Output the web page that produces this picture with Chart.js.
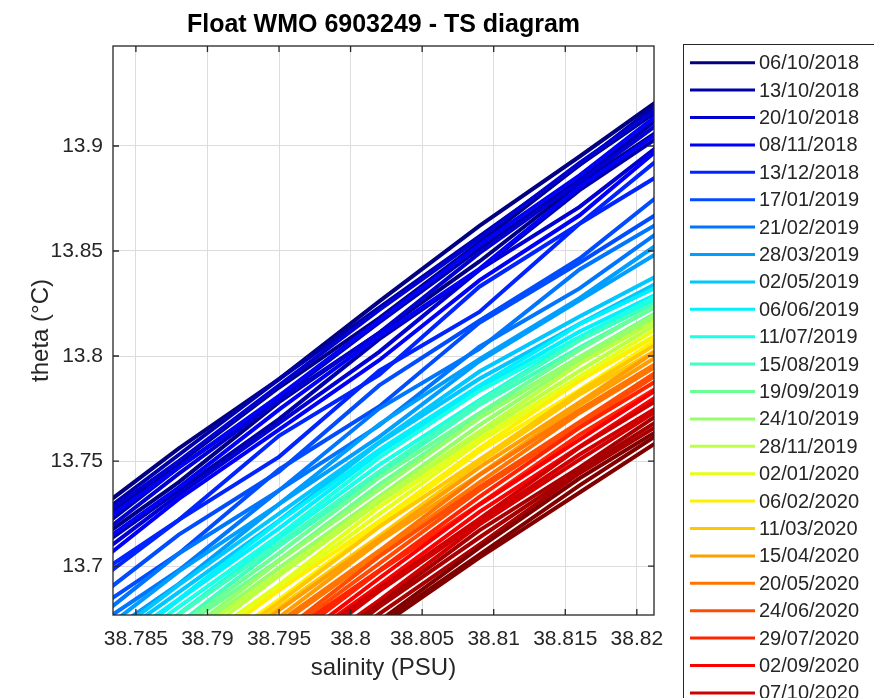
<!DOCTYPE html>
<html>
<head>
<meta charset="utf-8">
<script src="https://cdn.jsdelivr.net/npm/chart.js@4.4.0/dist/chart.umd.min.js"></script>
<style>
  html, body { margin: 0; padding: 0; background: #fff; }
  #wrap { width: 874px; height: 698px; }
</style>
</head>
<body>
<div id="wrap"><canvas id="tsChart" width="874" height="698"></canvas></div>
<script>
// axes
const xTicks = [38.785, 38.79, 38.795, 38.8, 38.805, 38.81, 38.815, 38.82];
const yTicks = [13.7, 13.75, 13.8, 13.85, 13.9];
const xRange = [38.7834, 38.8212];
const yRange = [13.6767, 13.9476];

const salinity = [38.781, 38.788, 38.795, 38.802, 38.809, 38.816, 38.823];

const dates = ['06/10/2018', '13/10/2018', '20/10/2018', '08/11/2018', '13/12/2018',
  '17/01/2019', '21/02/2019', '28/03/2019', '02/05/2019', '06/06/2019', '11/07/2019',
  '15/08/2019', '19/09/2019', '24/10/2019', '28/11/2019', '02/01/2020', '06/02/2020',
  '11/03/2020', '15/04/2020', '20/05/2020', '24/06/2020', '29/07/2020', '02/09/2020',
  '07/10/2020', '11/11/2020', '16/12/2020'];

// theta (one row per strand of the profile)
const p20181006 = [
  [13.7200, 13.7560, 13.7890, 13.8260, 13.8620, 13.8950, 13.9290],
  [13.7150, 13.7490, 13.7850, 13.8180, 13.8540, 13.8910, 13.9240],
  [13.7060, 13.7400, 13.7780, 13.8110, 13.8450, 13.8820, 13.9140]];
const p20181013 = [
  [13.7170, 13.7530, 13.7890, 13.8230, 13.8570, 13.8910, 13.9280],
  [13.7100, 13.7470, 13.7800, 13.8160, 13.8510, 13.8840, 13.9210],
  [13.7020, 13.7360, 13.7700, 13.8080, 13.8410, 13.8790, 13.9110]];
const p20181020 = [
  [13.7160, 13.7500, 13.7860, 13.8220, 13.8560, 13.8920, 13.9250],
  [13.7070, 13.7440, 13.7790, 13.8110, 13.8490, 13.8830, 13.9180],
  [13.6980, 13.7340, 13.7680, 13.8020, 13.8410, 13.8710, 13.9080]];
const p20181108 = [
  [13.7130, 13.7470, 13.7810, 13.8170, 13.8530, 13.8860, 13.9230],
  [13.7035, 13.7375, 13.7745, 13.8095, 13.8415, 13.8805, 13.9135],
  [13.6940, 13.7320, 13.7650, 13.7980, 13.8360, 13.8670, 13.9070]];
const p20181213 = [
  [13.6900, 13.7220, 13.7620, 13.7910, 13.8330, 13.8630, 13.9020],
  [13.6860, 13.7220, 13.7520, 13.7930, 13.8210, 13.8630, 13.8920]];
const p20190117 = [
  [13.6780, 13.7150, 13.7450, 13.7860, 13.8168, 13.8464, 13.8844],
  [13.6740, 13.7060, 13.7460, 13.7760, 13.8158, 13.8444, 13.8744]];
const p20190221 = [
  [13.6680, 13.7060, 13.7360, 13.7750, 13.8034, 13.8412, 13.8692],
  [13.6660, 13.6980, 13.7360, 13.7670, 13.8044, 13.8322, 13.8662]];
const p20190328 = [
  [13.6605, 13.6975, 13.7295, 13.7675, 13.7985, 13.8275, 13.8605],
  [13.6585, 13.6915, 13.7295, 13.7615, 13.7975, 13.8265, 13.8555]];
const p20190502 = [
  [13.6550, 13.6910, 13.7250, 13.7590, 13.7926, 13.8188, 13.8438],
  [13.6536, 13.6876, 13.7216, 13.7586, 13.7892, 13.8154, 13.8404]];
const p20190606 = [
  [13.6503, 13.6843, 13.7213, 13.7553, 13.7859, 13.8151, 13.8381],
  [13.6469, 13.6839, 13.7179, 13.7539, 13.7845, 13.8117, 13.8347]];
const p20190711 = [
  [13.6456, 13.6806, 13.7146, 13.7516, 13.7834, 13.8090, 13.8345],
  [13.6442, 13.6772, 13.7132, 13.7482, 13.7790, 13.8086, 13.8331]];
const p20190815 = [
  [13.6409, 13.6769, 13.7109, 13.7449, 13.7781, 13.8075, 13.8310],
  [13.6385, 13.6725, 13.7095, 13.7435, 13.7767, 13.8041, 13.8296]];
const p20190919 = [
  [13.6372, 13.6712, 13.7062, 13.7422, 13.7728, 13.8030, 13.8305],
  [13.6338, 13.6698, 13.7028, 13.7388, 13.7714, 13.7996, 13.8271]];
const p20191024 = [
  [13.6315, 13.6655, 13.7025, 13.7365, 13.7705, 13.7995, 13.8260],
  [13.6301, 13.6641, 13.6991, 13.7331, 13.7671, 13.7981, 13.8246]];
const p20191128 = [
  [13.6268, 13.6628, 13.6968, 13.7318, 13.7640, 13.7964, 13.8234],
  [13.6234, 13.6594, 13.6954, 13.7304, 13.7626, 13.7930, 13.8220]];
const p20200102 = [
  [13.6221, 13.6571, 13.6911, 13.7281, 13.7605, 13.7903, 13.8198],
  [13.6207, 13.6537, 13.6897, 13.7247, 13.7591, 13.7889, 13.8164]];
const p20200206 = [
  [13.6174, 13.6534, 13.6884, 13.7214, 13.7560, 13.7882, 13.8162],
  [13.6150, 13.6500, 13.6840, 13.7200, 13.7546, 13.7838, 13.8148]];
const p20200311 = [
  [13.6137, 13.6477, 13.6827, 13.7187, 13.7507, 13.7831, 13.8126],
  [13.6103, 13.6463, 13.6803, 13.7143, 13.7493, 13.7817, 13.8092]];
const p20200415 = [
  [13.6080, 13.6420, 13.6790, 13.7130, 13.7470, 13.7780, 13.8100],
  [13.6066, 13.6406, 13.6756, 13.7116, 13.7436, 13.7766, 13.8066]];
const p20200520 = [
  [13.6033, 13.6393, 13.6733, 13.7073, 13.7433, 13.7743, 13.8033],
  [13.6009, 13.6359, 13.6719, 13.7059, 13.7399, 13.7729, 13.8019]];
const p20200624 = [
  [13.5996, 13.6336, 13.6676, 13.7046, 13.7376, 13.7686, 13.7996],
  [13.5962, 13.6302, 13.6662, 13.7012, 13.7362, 13.7672, 13.7982]];
const p20200729 = [
  [13.5939, 13.6299, 13.6649, 13.6979, 13.7329, 13.7659, 13.7949],
  [13.5925, 13.6265, 13.6615, 13.6975, 13.7295, 13.7625, 13.7915]];
const p20200902 = [
  [13.5892, 13.6242, 13.6582, 13.6942, 13.7292, 13.7602, 13.7912],
  [13.5868, 13.6228, 13.6568, 13.6908, 13.7258, 13.7568, 13.7878]];
const p20201007 = [
  [13.5855, 13.6195, 13.6555, 13.6895, 13.7225, 13.7565, 13.7855],
  [13.5821, 13.6161, 13.6521, 13.6881, 13.7211, 13.7531, 13.7821],
  [13.5797, 13.6157, 13.6497, 13.6837, 13.7197, 13.7507, 13.7807]];
const p20201111 = [
  [13.5770, 13.6130, 13.6470, 13.6820, 13.7170, 13.7470, 13.7790],
  [13.5756, 13.6096, 13.6436, 13.6806, 13.7136, 13.7456, 13.7756],
  [13.5722, 13.6062, 13.6432, 13.6772, 13.7102, 13.7442, 13.7732]];
const p20201216 = [
  [13.5698, 13.6048, 13.6408, 13.6738, 13.7088, 13.7418, 13.7708],
  [13.5674, 13.6034, 13.6374, 13.6724, 13.7054, 13.7384, 13.7694],
  [13.5660, 13.6000, 13.6340, 13.6710, 13.7040, 13.7350, 13.7660]];

const profiles = [p20181006, p20181013, p20181020, p20181108, p20181213, p20190117,
  p20190221, p20190328, p20190502, p20190606, p20190711, p20190815, p20190919,
  p20191024, p20191128, p20200102, p20200206, p20200311, p20200415, p20200520,
  p20200624, p20200729, p20200902, p20201007, p20201111, p20201216];

// matlab jet colormap
function jet(t) {
    const c = v => Math.round(255 * Math.max(0, Math.min(1, v)));
    return 'rgb(' + c(1.5 - Math.abs(4 * t - 3)) + ',' + c(1.5 - Math.abs(4 * t - 2)) + ',' + c(1.5 - Math.abs(4 * t - 1)) + ')';
}

const datasets = [];
profiles.forEach((strands, d) => {
    const color = jet(d / (dates.length - 1));
    strands.forEach(theta => {
        datasets.push({
            label: dates[d],
            data: theta.map((v, i) => ({ x: salinity[i], y: v })),
            borderColor: color,
            borderWidth: 4,
            pointRadius: 0,
            fill: false,
            tension: 0,
            order: -d
        });
    });
});

// box + inward ticks like matlab
const frame = {
    id: 'frame',
    afterDraw(chart) {
        const { ctx, chartArea: a, scales } = chart;
        ctx.save();
        ctx.strokeStyle = '#262626';
        ctx.lineWidth = 1.3;
        ctx.strokeRect(a.left, a.top, a.right - a.left, a.bottom - a.top);
        ctx.beginPath();
        xTicks.forEach(v => {
            const px = scales.x.getPixelForValue(v);
            ctx.moveTo(px, a.bottom); ctx.lineTo(px, a.bottom - 6);
            ctx.moveTo(px, a.top); ctx.lineTo(px, a.top + 6);
        });
        yTicks.forEach(v => {
            const py = scales.y.getPixelForValue(v);
            ctx.moveTo(a.left, py); ctx.lineTo(a.left + 6, py);
            ctx.moveTo(a.right, py); ctx.lineTo(a.right - 6, py);
        });
        ctx.stroke();
        ctx.restore();
    }
};

// legend on the right, cut by the window like the original
const legendBox = {
    id: 'legendBox',
    afterDraw(chart) {
        const ctx = chart.ctx;
        ctx.save();
        ctx.strokeStyle = '#262626';
        ctx.lineWidth = 1;
        ctx.strokeRect(683.5, 44.5, 260, 700);
        ctx.font = '20px "Liberation Sans", Arial, sans-serif';
        ctx.textBaseline = 'middle';
        ctx.fillStyle = '#262626';
        dates.forEach((d, i) => {
            const y = 62.7 + 27.4 * i;
            ctx.strokeStyle = jet(i / (dates.length - 1));
            ctx.lineWidth = 3;
            ctx.beginPath();
            ctx.moveTo(690, y);
            ctx.lineTo(755, y);
            ctx.stroke();
            ctx.fillText(d, 759, y + 1);
        });
        ctx.restore();
    }
};

Chart.defaults.font.family = '"Liberation Sans", Arial, Helvetica, sans-serif';

new Chart(document.getElementById('tsChart'), {
    type: 'line',
    data: { datasets: datasets },
    options: {
        responsive: false,
        animation: false,
        layout: { padding: { left: 0, right: 220, top: 0, bottom: 0 } },
        plugins: {
            legend: { display: false },
            tooltip: { enabled: false },
            title: {
                display: true,
                fullSize: false,
                text: 'Float WMO 6903249 - TS diagram',
                color: '#000',
                font: { size: 25, weight: 'bold' },
                padding: { top: 10, bottom: 6 }
            }
        },
        scales: {
            x: {
                type: 'linear',
                min: xRange[0],
                max: xRange[1],
                afterBuildTicks: s => { s.ticks = xTicks.map(v => ({ value: v })); },
                afterFit: s => { s.height = 83; s.paddingLeft = 0; s.paddingRight = 0; },
                ticks: {
                    autoSkip: false, maxRotation: 0, padding: 12,
                    color: '#262626', font: { size: 21 },
                    callback: v => String(parseFloat(v.toFixed(3)))
                },
                grid: { color: '#dcdcdc', drawTicks: false },
                border: { display: false },
                title: {
                    display: true, text: 'salinity (PSU)', color: '#262626',
                    font: { size: 24 }, padding: { top: 0, bottom: 15.6 }
                }
            },
            y: {
                type: 'linear',
                min: yRange[0],
                max: yRange[1],
                afterBuildTicks: s => { s.ticks = yTicks.map(v => ({ value: v })); },
                afterFit: s => { s.width = 113; s.paddingTop = 0; s.paddingBottom = 0; },
                ticks: {
                    autoSkip: false, padding: 10,
                    color: '#262626', font: { size: 21 },
                    callback: v => String(parseFloat(v.toFixed(3)))
                },
                grid: { color: '#dcdcdc', drawTicks: false },
                border: { display: false },
                title: {
                    display: true, text: 'theta (\u00B0C)', color: '#262626',
                    font: { size: 24 }, padding: { top: 27, bottom: 0 }
                }
            }
        }
    },
    plugins: [frame, legendBox]
});
</script>
</body>
</html>
